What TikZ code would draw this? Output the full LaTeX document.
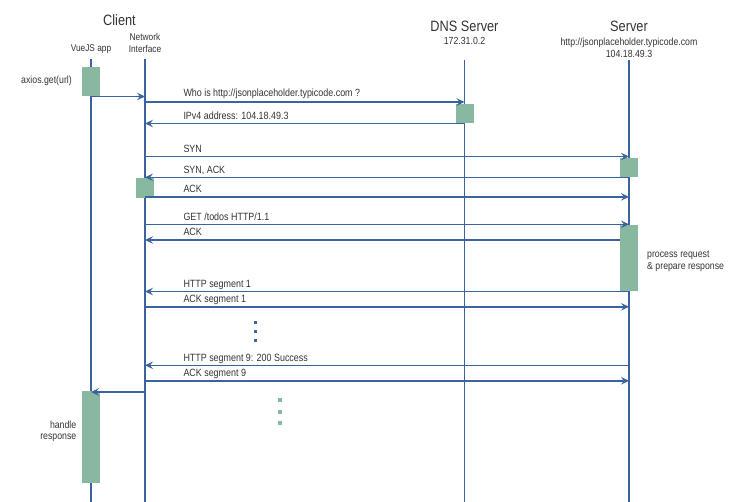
\documentclass[tikz,border=0pt]{standalone}
\usepackage{fontspec}
\setmainfont{Liberation Sans}[FakeStretch=0.85]
\usetikzlibrary{arrows.meta}
\definecolor{lane}{HTML}{3B63A0}
\definecolor{act}{HTML}{88B8A0}
\definecolor{txt}{HTML}{333333}
\begin{document}
\begin{tikzpicture}[x=1pt,y=-1pt,
  life/.style={draw=lane,line width=1.6pt},
  msg/.style={draw=lane,line width=1.5pt,-{Stealth[length=8pt,width=7.5pt,inset=3pt]}},
  lbl/.style={anchor=base west,inner sep=0,font=\fontsize{10.5}{12}\selectfont,text=txt},
  small/.style={inner sep=0,font=\fontsize{10.3}{11.8}\selectfont,text=txt},
  big/.style={inner sep=0,font=\fontsize{15}{18}\selectfont,text=txt,anchor=base},
  actbox/.style={fill=act,draw=none,minimum width=18pt,inner sep=0,anchor=north},
  gdot/.style={fill=act,draw=none,minimum size=4pt,inner sep=0},
  bdot/.style={fill=lane,draw=none,minimum size=3.4pt,inner sep=0}
]
\useasboundingbox (0,0) rectangle (740,502);

% headers
\node[big] (client) at (119.5,26) {Client};
\node[small,anchor=base,font=\fontsize{9.8}{11.5}\selectfont] (vuelbl) at (91,51.5) {VueJS app};
\node[small,anchor=north,align=center,font=\fontsize{9.8}{11.5}\selectfont] (nilbl) at (145,33.5) {Network\\Interface};
\node[big] (dnslbl) at (464.5,32) {DNS Server};
\node[small,anchor=base] (dnsip) at (464.5,45) {172.31.0.2};
\node[big] (srvlbl) at (629,32) {Server};
\node[small,anchor=north,align=center] (srvip) at (629,38.3) {http://jsonplaceholder.typicode.com\\104.18.49.3};

% lifelines
\coordinate (vue) at (91,59);
\coordinate (ni) at (145,59);
\coordinate (dns) at (464.5,60);
\coordinate (srv) at (629,60);
\coordinate (vueE) at (91,502);
\coordinate (niE) at (145,502);
\coordinate (dnsE) at (464.5,502);
\coordinate (srvE) at (629,502);
\draw[life] (vue) -- (vueE);
\draw[life] (ni) -- (niE);
\draw[life] (dns) -- (dnsE);
\draw[life] (srv) -- (srvE);

% activation boxes
\node[actbox,minimum height=29pt] (b1) at (91,67) {};
\node[actbox,minimum height=19.5pt] (b2) at (464.5,103.5) {};
\node[actbox,minimum height=19.5pt] (b3) at (629,157.5) {};
\node[actbox,minimum height=19.5pt] (b4) at (145,178) {};
\node[actbox,minimum height=65.7pt] (b5) at (629,225) {};
\node[actbox,minimum height=92.5pt] (b6) at (91,390.7) {};

% side labels
\node[small,anchor=base east] (axios) at (72,84) {axios.get(url)};
\node[small,anchor=north east,align=right] (handle) at (76.5,420.5) {handle\\response};
\node[small,anchor=north west,align=left] (proc) at (647,250.5) {process request\\\& prepare response};

% messages
\draw[msg] (vue |- 0,96.5) -- (ni |- 0,96.5);
\draw[msg] (ni |- 0,102) -- (dns |- 0,102);
\node[lbl] (m1) at (183.3,97) {Who is http://jsonplaceholder.typicode.com ?};
\draw[msg] (dns |- 0,123.5) -- (ni |- 0,123.5);
\node[lbl] (m2) at (183.3,120) {IPv4 address: 104.18.49.3};
\draw[msg] (ni |- 0,156.5) -- (srv |- 0,156.5);
\node[lbl] (m3) at (183.3,153) {SYN};
\draw[msg] (srv |- 0,177.3) -- (ni |- 0,177.3);
\node[lbl] (m4) at (183.3,173.5) {SYN, ACK};
\draw[msg] (ni |- 0,196.9) -- (srv |- 0,196.9);
\node[lbl] (m5) at (183.3,193) {ACK};
\draw[msg] (ni |- 0,224.3) -- (srv |- 0,224.3);
\node[lbl] (m6) at (183.3,220.5) {GET /todos HTTP/1.1};
\draw[msg] (b5.west |- 0,240) -- (ni |- 0,240);
\node[lbl] (m7) at (183.3,236) {ACK};
\draw[msg] (srv |- 0,291.5) -- (ni |- 0,291.5);
\node[lbl] (m8) at (183.3,287.5) {HTTP segment 1};
\draw[msg] (ni |- 0,306.8) -- (srv |- 0,306.8);
\node[lbl] (m9) at (183.3,302.5) {ACK segment 1};
\node[bdot] (d1) at (255.7,322.7) {};
\node[bdot] (d2) at (255.7,331.5) {};
\node[bdot] (d3) at (255.7,340.3) {};
\draw[msg] (srv |- 0,365.3) -- (ni |- 0,365.3);
\node[lbl] (m10) at (183.3,361.5) {HTTP segment 9: 200 Success};
\draw[msg] (ni |- 0,380.8) -- (srv |- 0,380.8);
\node[lbl] (m11) at (183.3,376.5) {ACK segment 9};
\draw[msg] (ni |- 0,392) -- (vue |- 0,392);
\node[gdot] (g1) at (280,400.3) {};
\node[gdot] (g2) at (280,411.8) {};
\node[gdot] (g3) at (280,423.3) {};
\end{tikzpicture}
\end{document}
